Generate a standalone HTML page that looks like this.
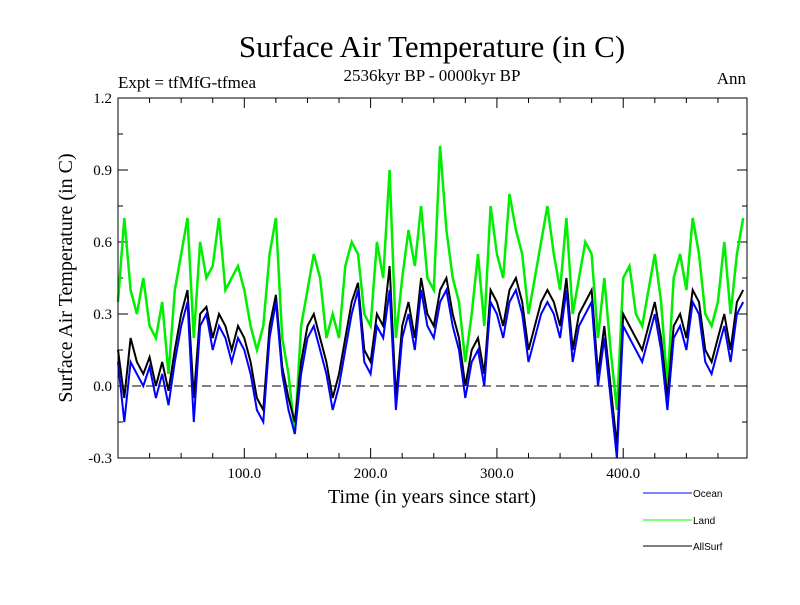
<!DOCTYPE html>
<html><head><meta charset="utf-8"><style>
body{margin:0;background:#fff}
svg text{font-family:"Liberation Serif",serif}
</style></head><body>
<svg id="chart" width="800" height="600" xmlns="http://www.w3.org/2000/svg">
<text x="432" y="57" font-size="31" text-anchor="middle">Surface Air Temperature (in C)</text>
<text x="118" y="88" font-size="17">Expt = tfMfG-tfmea</text>
<text x="432" y="81" font-size="17" text-anchor="middle">2536kyr BP - 0000kyr BP</text>
<text x="746" y="84" font-size="17" text-anchor="end">Ann</text>
<text transform="translate(72,278) rotate(-90)" font-size="20" text-anchor="middle">Surface Air Temperature (in C)</text>
<text x="432" y="503" font-size="20" text-anchor="middle">Time (in years since start)</text>
<g id="axes"></g>
<g id="series"></g>
<rect x="118" y="98" width="629" height="360" fill="none" stroke="#000" stroke-width="1"/>
<g font-family="Liberation Sans" font-size="10">
<line x1="643" y1="493" x2="692" y2="493" stroke="#0000ff"/>
<text x="693" y="497" style="font-family:'Liberation Sans',sans-serif">Ocean</text>
<line x1="643" y1="520" x2="692" y2="520" stroke="#00ff00"/>
<text x="693" y="524" style="font-family:'Liberation Sans',sans-serif">Land</text>
<line x1="643" y1="546" x2="692" y2="546" stroke="#000"/>
<text x="693" y="550" style="font-family:'Liberation Sans',sans-serif">AllSurf</text>
</g>
</svg>
<script>
const yTicks=[-0.3,0.0,0.3,0.6,0.9,1.2];
const yTickLabels=["-0.3","0.0","0.3","0.6","0.9","1.2"];
const xTicks=[100,200,300,400];
const xTickLabels=["100.0","200.0","300.0","400.0"];
const years=[];for(let i=0;i<100;i++)years.push(i*5);
const ocean=[0.10,-0.15,0.10,0.05,0.00,0.08,-0.05,0.05,-0.08,0.10,0.25,0.35,-0.15,0.25,0.30,0.15,0.25,0.20,0.10,0.20,0.15,0.05,-0.10,-0.15,0.20,0.35,0.05,-0.10,-0.20,0.05,0.20,0.25,0.15,0.05,-0.10,0.00,0.15,0.30,0.40,0.10,0.05,0.25,0.20,0.40,-0.10,0.20,0.30,0.15,0.40,0.25,0.20,0.35,0.40,0.25,0.15,-0.05,0.10,0.15,0.00,0.35,0.30,0.20,0.35,0.40,0.30,0.10,0.20,0.30,0.35,0.30,0.20,0.40,0.10,0.25,0.30,0.35,0.00,0.20,-0.05,-0.30,0.25,0.20,0.15,0.10,0.20,0.30,0.15,-0.10,0.20,0.25,0.15,0.35,0.30,0.10,0.05,0.15,0.25,0.10,0.30,0.35];
const land=[0.35,0.70,0.40,0.30,0.45,0.25,0.20,0.35,0.05,0.40,0.55,0.70,0.20,0.60,0.45,0.50,0.70,0.40,0.45,0.50,0.40,0.25,0.15,0.25,0.55,0.70,0.20,0.05,-0.20,0.25,0.40,0.55,0.45,0.20,0.30,0.20,0.50,0.60,0.55,0.30,0.25,0.60,0.45,0.90,0.20,0.45,0.65,0.50,0.75,0.45,0.40,1.00,0.65,0.45,0.35,0.10,0.30,0.55,0.25,0.75,0.55,0.45,0.80,0.65,0.55,0.30,0.45,0.60,0.75,0.55,0.40,0.70,0.30,0.45,0.60,0.55,0.20,0.45,0.15,-0.10,0.45,0.50,0.30,0.25,0.40,0.55,0.35,0.00,0.45,0.55,0.40,0.70,0.55,0.30,0.25,0.35,0.60,0.30,0.55,0.70];
const allsurf=[0.15,-0.05,0.20,0.10,0.05,0.12,0.00,0.10,-0.02,0.15,0.30,0.40,-0.05,0.30,0.33,0.20,0.30,0.25,0.15,0.25,0.20,0.10,-0.05,-0.10,0.25,0.38,0.08,-0.05,-0.15,0.10,0.25,0.30,0.20,0.10,-0.05,0.05,0.20,0.35,0.43,0.15,0.10,0.30,0.25,0.50,-0.05,0.25,0.35,0.20,0.45,0.30,0.25,0.40,0.45,0.30,0.20,0.00,0.15,0.20,0.05,0.40,0.35,0.25,0.40,0.45,0.35,0.15,0.25,0.35,0.40,0.35,0.25,0.45,0.15,0.30,0.35,0.40,0.05,0.25,0.00,-0.25,0.30,0.25,0.20,0.15,0.25,0.35,0.20,-0.05,0.25,0.30,0.20,0.40,0.35,0.15,0.10,0.20,0.30,0.15,0.35,0.40];
const X0=118,X1=747,Y0=98,Y1=458;
function xs(v){return X0+(v-0)/(498-0)*(X1-X0);}
function ys(v){return Y1-(v+0.3)/1.5*(Y1-Y0);}
const NS="http://www.w3.org/2000/svg";
const axes=document.getElementById('axes');
function mk(tag,attrs,parent){const e=document.createElementNS(NS,tag);for(const k in attrs)e.setAttribute(k,attrs[k]);parent.appendChild(e);return e;}
yTicks.forEach((t,i)=>{
  const y=ys(t);
  const l1=mk('line',{x1:X0,x2:X0+10,y1:y,y2:y,stroke:'#000'},axes);
  
  
  mk('line',{x1:X1-10,x2:X1,y1:y,y2:y,stroke:'#000'},axes);
  const tx=mk('text',{x:X0-6,y:y+5,'font-size':15,'text-anchor':'end'},axes);
  tx.textContent=yTickLabels[i];
  
  
  if(i<yTicks.length-1){const ym=ys(t+0.15);
    mk('line',{x1:X0,x2:X0+5,y1:ym,y2:ym,stroke:'#000'},axes);
    mk('line',{x1:X1-5,x2:X1,y1:ym,y2:ym,stroke:'#000'},axes);}
});
for(let v=25;v<500;v+=25){const x=xs(v);const big=v%100===0;
  mk('line',{x1:x,x2:x,y1:Y1,y2:Y1-(big?10:5),stroke:'#000'},axes);
  mk('line',{x1:x,x2:x,y1:Y0,y2:Y0+(big?10:5),stroke:'#000'},axes);}
xTicks.forEach((t,i)=>{
  const tx=mk('text',{x:xs(t),y:Y1+20,'font-size':15,'text-anchor':'middle'},axes);
  tx.textContent=xTickLabels[i];
  
  
});
const zl=mk('line',{x1:X0,x2:X1,y1:ys(0),y2:ys(0),stroke:'#000','stroke-dasharray':'9,5'},axes);


const sg=document.getElementById('series');
function draw(arr,color,name,w){
  const d=arr.map((v,i)=>(i?'L':'M')+xs(years[i]).toFixed(1)+','+ys(v).toFixed(1)).join('');
  const p=mk('path',{d:d,fill:'none',stroke:color,'stroke-width':w},sg);
  
  
}
draw(land,'#00ee00','land-line',2.5);
draw(allsurf,'#000000','allsurf-line',2);
draw(ocean,'#0000ff','ocean-line',2);
</script>
</body></html>
